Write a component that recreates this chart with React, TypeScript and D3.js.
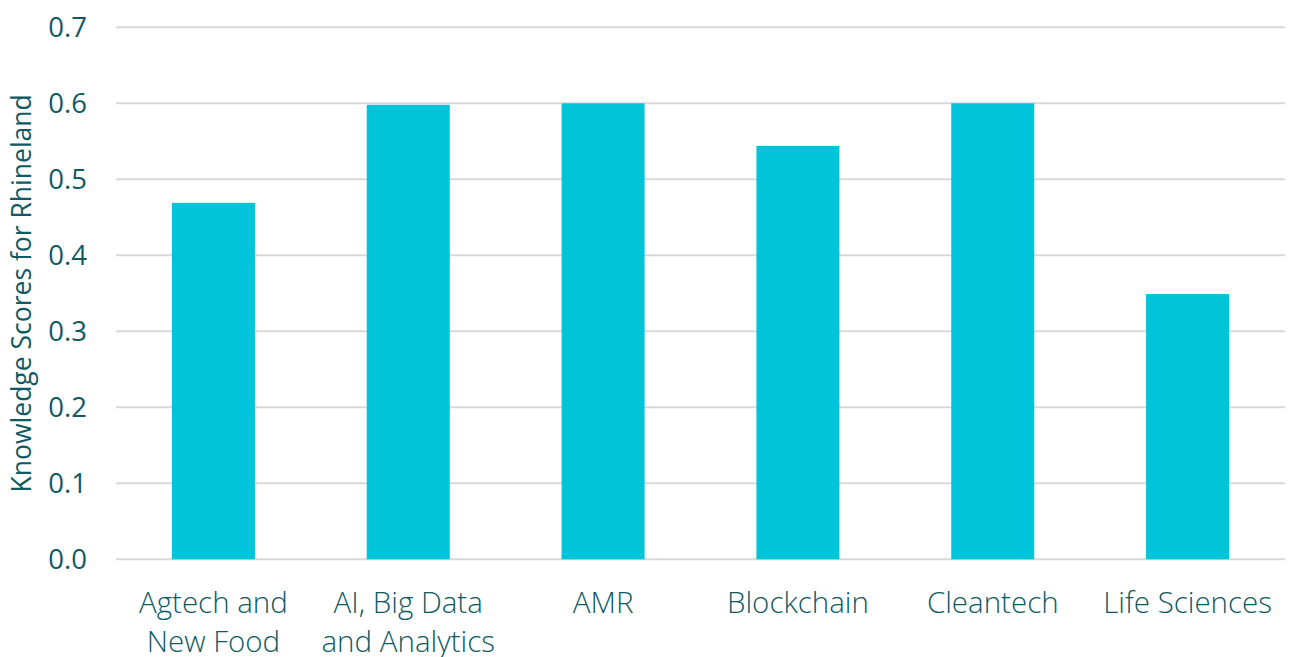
import React from "react";
import * as d3 from "d3";

const categories: string[][] = [
  ["Agtech and", "New Food"],
  ["AI, Big Data", "and Analytics"],
  ["AMR"],
  ["Blockchain"],
  ["Cleantech"],
  ["Life Sciences"],
];
const values: number[] = [0.469, 0.598, 0.6, 0.544, 0.6, 0.349];
const yTicks: number[] = [0, 0.1, 0.2, 0.3, 0.4, 0.5, 0.6, 0.7];
const yTitle = "Knowledge Scores for Rhineland";

const W = 1290;
const H = 657;
const M = { left: 116, right: 5, top: 27.3, bottom: 97.7 };
const FONT = "'Open Sans', sans-serif";
const TEXT = "#0F5A63";

export default function App() {
  const x = d3
    .scaleBand<number>()
    .domain(d3.range(values.length))
    .range([M.left, W - M.right])
    .paddingInner(0.574)
    .paddingOuter(0.287);
  const y = d3.scaleLinear().domain([0, 0.7]).range([H - M.bottom, M.top]);
  const fmt = d3.format(".1f");
  return (
    <svg
      width={W}
      height={H}
      style={{ position: "absolute", left: 0, top: 0, background: "#fff" }}
      fontFamily={FONT}
    >
      {yTicks.map((t) => (
        <g key={t}>
          <line
            x1={M.left}
            x2={W - M.right}
            y1={y(t)}
            y2={y(t)}
            stroke="#D9D9D9"
            strokeWidth={2}
          />
          <text
            x={87}
            y={y(t)}
            dy="0.35em"
            textAnchor="end"
            fontSize={27.5}
            fill={TEXT}
            fontWeight={400}
          >
            {fmt(t)}
          </text>
        </g>
      ))}
      {values.map((v, i) => (
        <rect
          key={i}
          x={x(i)}
          y={y(v)}
          width={x.bandwidth()}
          height={y(0) - y(v)}
          fill="#00C4D9"
        />
      ))}
      {categories.map((lines, i) => (
        <text
          key={i}
          textAnchor="middle"
          fontSize={29.5}
          fill={TEXT}
          fontWeight={300}
        >
          {lines.map((l, j) => (
            <tspan key={j} x={x(i)! + x.bandwidth() / 2} y={612.5 + j * 39}>
              {l}
            </tspan>
          ))}
        </text>
      ))}
      <text
        transform={`translate(${31},${(y(0) + y(0.7)) / 2}) rotate(-90)`}
        textAnchor="middle"
        fontSize={26.5}
        fill={TEXT}
        fontWeight={400}
      >
        {yTitle}
      </text>
    </svg>
  );
}
